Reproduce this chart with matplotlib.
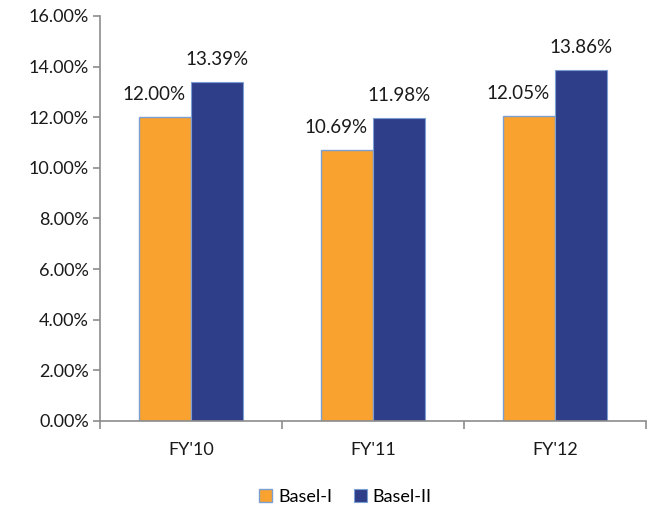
import numpy as np
import matplotlib
matplotlib.use("Agg")
import matplotlib.pyplot as plt
from matplotlib.ticker import FuncFormatter, FixedLocator

plt.rcParams['font.family'] = ['Lato', 'DejaVu Sans']

years = ["FY'10", "FY'11", "FY'12"]
basel_1 = [12.00, 10.69, 12.05]
basel_2 = [13.39, 11.98, 13.86]
y_ticks = [0, 2, 4, 6, 8, 10, 12, 14, 16]

orange = '#F9A22F'
navy = '#2F3E88'
edge = '#7C9FD3'
axis_grey = '#8C8C8C'
txt = '#1a1a1a'

fig = plt.figure(figsize=(6.52, 5.14), dpi=100)
ax = fig.add_axes([0.1534, 0.181, 0.8374, 0.788])

x = np.arange(len(years))
w = 0.286

b1 = ax.bar(x - w / 2, basel_1, w, color=orange, edgecolor=edge, linewidth=1.0, label='Basel-I')
b2 = ax.bar(x + w / 2, basel_2, w, color=navy, edgecolor=edge, linewidth=0.8, label='Basel-II')

for xi, v in zip(x, basel_1):
    ax.annotate(f'{v:.2f}%', (xi - w / 2, v), xytext=(-8, 10), textcoords='offset points',
                ha='center', va='bottom', fontsize=13.5, color=txt)
for xi, v in zip(x, basel_2):
    ax.annotate(f'{v:.2f}%', (xi + w / 2, v), xytext=(0, 10), textcoords='offset points',
                ha='center', va='bottom', fontsize=13.5, color=txt)

ax.set_xlim(-0.5, len(years) - 0.5)
ax.set_ylim(0, 16)
ax.set_yticks(y_ticks)
ax.yaxis.set_major_formatter(FuncFormatter(lambda v, p: f'{v:.2f}%'))

# category labels in the middle, tick marks on the boundaries
ax.set_xticks(x)
ax.set_xticklabels(years)
ax.xaxis.set_minor_locator(FixedLocator(np.arange(-0.5, len(years), 1.0)))
ax.tick_params(axis='x', which='major', length=0, pad=15, labelsize=13, labelcolor=txt)
ax.tick_params(axis='x', which='minor', length=6, width=1.2, color=axis_grey, direction='out')
ax.tick_params(axis='y', length=5, width=1.2, color=axis_grey, direction='out', labelsize=13,
               labelcolor=txt, pad=3)

for s in ('top', 'right'):
    ax.spines[s].set_visible(False)
for s in ('left', 'bottom'):
    ax.spines[s].set_color(axis_grey)
    ax.spines[s].set_linewidth(1.2)

fig.legend(handles=[b1, b2], loc='center', bbox_to_anchor=(0.53, 0.033), ncol=2, frameon=False,
           fontsize=13, handlelength=0.7, handleheight=0.7, handletextpad=0.35, columnspacing=1.2)

fig.savefig('out.png', dpi=100)
